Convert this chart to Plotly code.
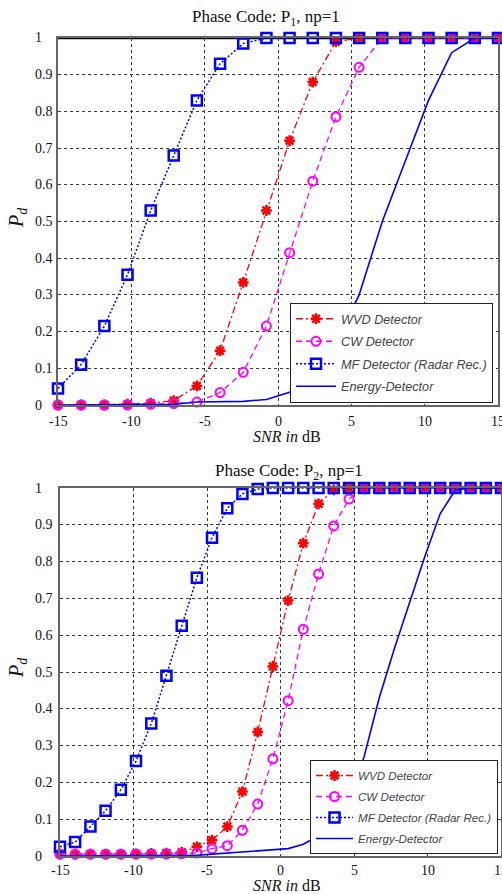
import plotly.graph_objects as go

# ---------------- data ----------------
# Top panel: Phase Code P1 (20 SNR points)
snr_p1 = [-15, -13.42, -11.84, -10.26, -8.68, -7.11, -5.53, -3.95, -2.37, -0.79,
          0.79, 2.37, 3.95, 5.53, 7.11, 8.68, 10.26, 11.84, 13.42, 15]
wvd_p1 = [0, 0, 0, 0.002, 0.005, 0.012, 0.052, 0.148, 0.334, 0.53,
          0.72, 0.88, 0.99, 1, 1, 1, 1, 1, 1, 1]
cw_p1 = [0, 0, 0, 0, 0.002, 0.004, 0.008, 0.034, 0.089, 0.215,
         0.415, 0.61, 0.785, 0.92, 1, 1, 1, 1, 1, 1]
mf_p1 = [0.045, 0.11, 0.215, 0.355, 0.53, 0.68, 0.83, 0.93, 0.985, 1,
         1, 1, 1, 1, 1, 1, 1, 1, 1, 1]
energy_p1 = [0, 0, 0, 0, 0, 0.002, 0.008, 0.01, 0.01, 0.015,
             0.035, 0.08, 0.17, 0.3, 0.5, 0.665, 0.83, 0.96, 1, 1]

# Bottom panel: Phase Code P2 (30 SNR points)
snr_p2 = [-15, -13.97, -12.93, -11.9, -10.86, -9.83, -8.79, -7.76, -6.72, -5.69,
          -4.66, -3.62, -2.59, -1.55, -0.52, 0.52, 1.55, 2.59, 3.62, 4.66,
          5.69, 6.72, 7.76, 8.79, 9.83, 10.86, 11.9, 12.93, 13.97, 15]
wvd_p2 = [0.005, 0.005, 0.005, 0.005, 0.005, 0.006, 0.007, 0.008, 0.01, 0.025,
          0.043, 0.08, 0.175, 0.337, 0.515, 0.694, 0.85, 0.957, 0.995, 1,
          1, 1, 1, 1, 1, 1, 1, 1, 1, 1]
cw_p2 = [0.005, 0.005, 0.005, 0.005, 0.005, 0.005, 0.005, 0.005, 0.006, 0.008,
         0.02, 0.028, 0.07, 0.141, 0.264, 0.422, 0.616, 0.766, 0.897, 0.97,
         1, 1, 1, 1, 1, 1, 1, 1, 1, 1]
mf_p2 = [0.025, 0.038, 0.08, 0.123, 0.18, 0.258, 0.36, 0.49, 0.626, 0.756,
         0.865, 0.945, 0.984, 0.997, 1, 1, 1, 1, 1, 1,
         1, 1, 1, 1, 1, 1, 1, 1, 1, 1]
energy_p2 = [0, 0, 0, 0, 0, 0, 0, 0, 0.001, 0.002,
             0.005, 0.008, 0.012, 0.015, 0.018, 0.02, 0.032, 0.055, 0.09, 0.15,
             0.27, 0.43, 0.565, 0.69, 0.815, 0.93, 0.995, 1, 1, 1]

series_names = ["WVD Detector", "CW Detector", "MF Detector (Radar Rec.)", "Energy-Detector"]
titles = ["Phase Code: P<sub>1</sub>, np=1", "Phase Code: P<sub>2</sub>, np=1"]
x_tickvals = [-15, -10, -5, 0, 5, 10, 15]
x_ticktext = ["-15", "-10", "-5", "0", "5", "10", "15"]
y_tickvals = [0, 0.1, 0.2, 0.3, 0.4, 0.5, 0.6, 0.7, 0.8, 0.9, 1]
y_ticktext = ["0", "0.1", "0.2", "0.3", "0.4", "0.5", "0.6", "0.7", "0.8", "0.9", "1"]

# ---------------- figure ----------------
W, H = 502, 894
SERIF = "Liberation Serif, Times New Roman, serif"
SANS = "Liberation Sans, Arial, sans-serif"

fig = go.Figure()

panels = [
    dict(x=snr_p1, data=[wvd_p1, cw_p1, mf_p1, energy_p1], xa="x", ya="y", legend="legend"),
    dict(x=snr_p2, data=[wvd_p2, cw_p2, mf_p2, energy_p2], xa="x2", ya="y2", legend="legend2"),
]

styles = [
    dict(line=dict(color="#FF0000", width=1.3, dash="7px,3px,2px,3px"),
         marker=dict(symbol="asterisk-open", size=9, color="#FF0000", line=dict(color="#FF0000", width=2.5)),
         mode="lines+markers"),
    dict(line=dict(color="#FF00FF", width=1.3, dash="6px,4px"),
         marker=dict(symbol="circle-open", size=9, color="#FF00FF", line=dict(color="#FF00FF", width=2)),
         mode="lines+markers"),
    dict(line=dict(color="#0000FF", width=1.5, dash="2px,2px"),
         marker=dict(symbol="square-open", size=10, color="#0000FF", line=dict(color="#0000FF", width=2.5)),
         mode="lines+markers"),
    dict(line=dict(color="#0000FF", width=1.6), mode="lines"),
]

for p in panels:
    for name, ys, st in zip(series_names, p["data"], styles):
        fig.add_trace(go.Scatter(
            x=p["x"], y=ys, name=name, xaxis=p["xa"], yaxis=p["ya"],
            legend=p["legend"], legendgroup=p["legend"] + name,
            cliponaxis=False, **st))

# plot areas in pixels
top_box = dict(l=58, r=498, t=38, b=405)
bot_box = dict(l=60, r=501, t=488, b=856)

def dom_x(b):
    return [b["l"] / W, b["r"] / W]

def dom_y(b):
    return [1 - b["b"] / H, 1 - b["t"] / H]

axis_common = dict(
    showgrid=True, gridcolor="#3a3a3a", gridwidth=1, griddash="3px,3px",
    showline=True, linecolor="#666666", linewidth=1.5, mirror=True,
    zeroline=False, ticks="", showticklabels=False,
)

fig.update_layout(
    width=W, height=H, margin=dict(l=0, r=0, t=0, b=0),
    paper_bgcolor="white", plot_bgcolor="white",
    xaxis=dict(domain=dom_x(top_box), anchor="y", range=[-15, 15],
               tickvals=x_tickvals, **axis_common),
    yaxis=dict(domain=dom_y(top_box), anchor="x", range=[0, 1],
               tickvals=y_tickvals, **axis_common),
    xaxis2=dict(domain=dom_x(bot_box), anchor="y2", range=[-15, 15],
                tickvals=x_tickvals, **axis_common),
    yaxis2=dict(domain=dom_y(bot_box), anchor="x2", range=[0, 1],
                tickvals=y_tickvals, **axis_common),
    legend=dict(x=290 / W, y=1 - 303 / H, xanchor="left", yanchor="top",
                bgcolor="white", bordercolor="#222", borderwidth=1,
                font=dict(family=SANS, size=12.7, color="#444", style="italic"),
                tracegroupgap=3, itemwidth=40),
    legend2=dict(x=310 / W, y=1 - 760 / H, xanchor="left", yanchor="top",
                 bgcolor="white", bordercolor="#222", borderwidth=1,
                 font=dict(family=SANS, size=11.6, color="#444", style="italic"),
                 tracegroupgap=2, itemwidth=37),
    showlegend=True,
)

annotations = []
tick_font = dict(family=SERIF, size=14, color="#111")
# left-aligned y tick labels
for yref in ("y", "y2"):
    for v, t in zip(y_tickvals, y_ticktext):
        annotations.append(dict(x=33 / W, xref="paper", xanchor="left", y=v, yref=yref,
                                yanchor="middle", text=t, showarrow=False, font=tick_font))
# x tick labels (the last one runs off the right edge, as in the original)
for xref, yc in (("x", 421.5), ("x2", 870.5)):
    for v, t in zip(x_tickvals, x_ticktext):
        annotations.append(dict(x=v, xref=xref, xanchor="center", y=1 - yc / H, yref="paper",
                                yanchor="middle", text=t, showarrow=False, font=tick_font))
# titles
annotations.append(dict(x=266 / W, y=1 - 18 / H, xref="paper", yref="paper", text=titles[0],
                        showarrow=False, xanchor="center", yanchor="middle",
                        font=dict(family=SERIF, size=17, color="#111")))
annotations.append(dict(x=289 / W, y=1 - 472 / H, xref="paper", yref="paper", text=titles[1],
                        showarrow=False, xanchor="center", yanchor="middle",
                        font=dict(family=SERIF, size=17, color="#111")))
# y labels
for yc in (218, 668):
    annotations.append(dict(x=17 / W, y=1 - yc / H, xref="paper", yref="paper",
                            text="<i>P<sub>d</sub></i>", textangle=-90, showarrow=False,
                            xanchor="center", yanchor="middle",
                            font=dict(family=SERIF, size=20, color="#111")))
# x labels
for yc in (436, 885):
    annotations.append(dict(x=287 / W, y=1 - yc / H, xref="paper", yref="paper",
                            text="<i>SNR in</i> dB", showarrow=False,
                            xanchor="center", yanchor="middle",
                            font=dict(family=SERIF, size=16, color="#111")))
fig.update_layout(annotations=annotations)

# thick black top border of the upper panel
fig.add_shape(type="line", xref="x domain", yref="y domain", x0=0, x1=1, y0=1, y1=1,
              line=dict(color="black", width=2.5), layer="below")

fig.write_html("out.html", config={"displayModeBar": False},
               post_script="document.body.style.margin='0';document.body.style.overflow='hidden';")
